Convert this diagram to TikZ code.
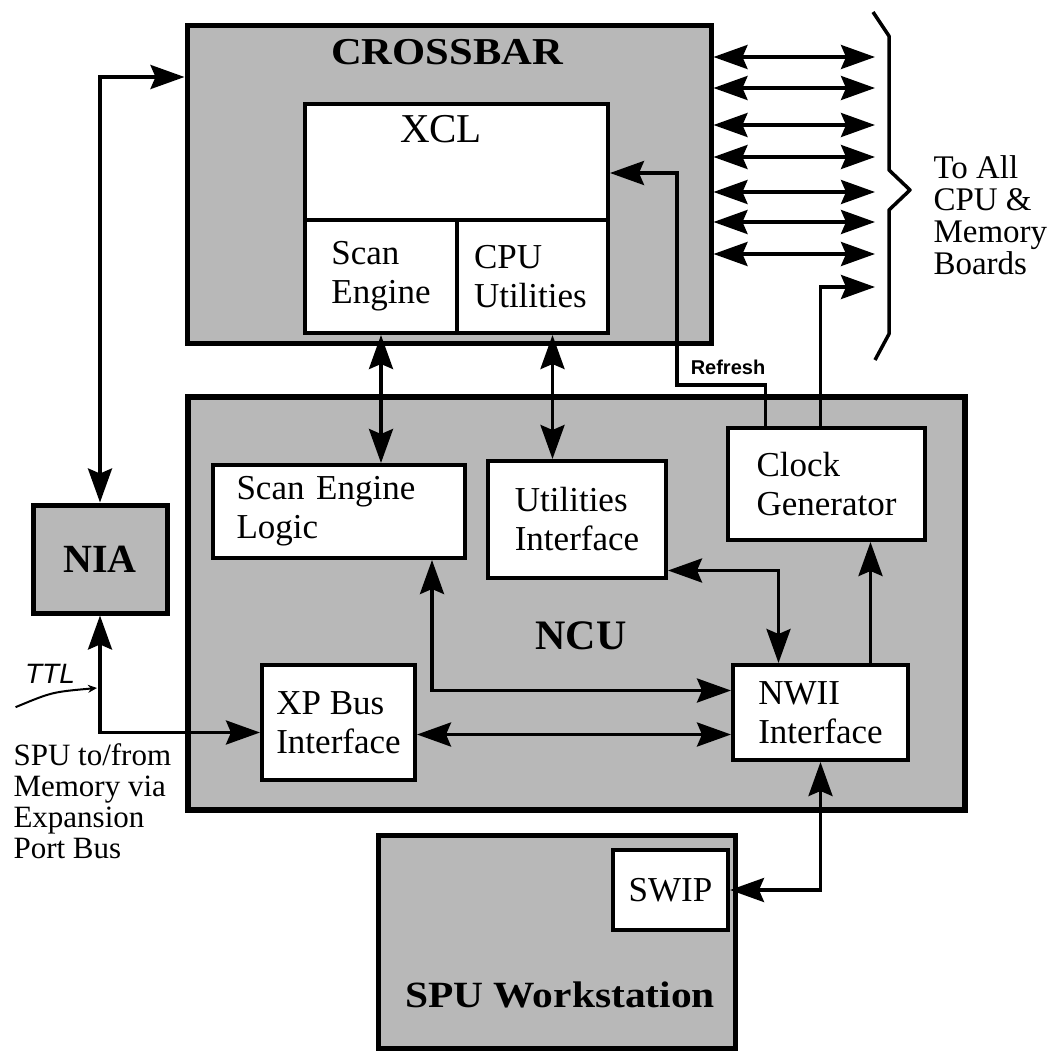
\documentclass[tikz,border=0pt]{standalone}
\usepackage{fontspec}
\setmainfont{Liberation Serif}
\newfontfamily\headfont[FakeStretch=1.12]{Liberation Serif}
\newfontfamily\handfont{Liberation Sans}
\usetikzlibrary{arrows.meta,positioning,calc}

\begin{document}
\begin{tikzpicture}[x=1pt,y=-1pt,
  >={Stealth[length=34pt,width=24pt,inset=5pt]},
  grp/.style={draw,line width=5pt,fill=black!28},
  blk/.style={draw,line width=4pt,fill=white,inner sep=0pt,align=left,font=\fontsize{35}{39}\selectfont},
  head/.style={font=\headfont\bfseries\fontsize{38}{40}\selectfont},
  conn/.style={line width=3.5pt},
  dbl/.style={conn,<->},
  arr/.style={conn,->}]
  \useasboundingbox (0,0) rectangle (1061,1052);

  % crossbar with the XCL
  \node[grp,minimum width=524pt,minimum height=318pt] (crossbar) at (449,184) {};
  \node[head] (crosstxt) at (447,52) {CROSSBAR};
  \node[blk,minimum width=303pt,minimum height=116pt] (xcl) at (456.5,162) {};
  \node[font=\fontsize{41}{41}\selectfont] (xcltxt) at (441,129) {XCL};
  \node[blk,minimum width=152pt,minimum height=113pt] (scaneng) at (381,276.5) {Scan\\Engine};
  \node[blk,minimum width=151pt,minimum height=113pt,text width=117pt] (cpuutil) at (532.5,276.5) {CPU\\Utilities};

  % NCU and its parts
  \node[grp,line width=6pt,minimum width=777pt,minimum height=413pt] (ncu) at (576.5,603.5) {};
  \node[font=\bfseries\fontsize{42}{42}\selectfont] (ncutxt) at (581,636) {NCU};
  \node[blk,minimum width=252pt,minimum height=93pt,text width=205pt] (sel) at (339,511.5) {Scan Engine\\Logic};
  \node[blk,minimum width=178pt,minimum height=117pt] (utif) at (577,519.5) {Utilities\\Interface};
  \node[blk,minimum width=197pt,minimum height=112pt] (clk) at (826.5,484) {Clock\\Generator};
  \node[blk,minimum width=175pt,minimum height=95pt] (nwii) at (820.5,712.5) {NWII\\Interface};
  \node[blk,minimum width=153pt,minimum height=115pt] (xpb) at (338.5,722.5) {XP Bus\\Interface};

  % NIA and SPU workstation
  \node[grp,minimum width=134pt,minimum height=108pt,font=\bfseries\fontsize{40}{40}\selectfont] (nia) at (100,559) {NIA};
  \node[grp,minimum width=357pt,minimum height=213pt] (spu) at (556.5,941.5) {};
  \node[head,font=\headfont\bfseries\fontsize{37}{40}\selectfont] (sputxt) at (560,995) {SPU Workstation};
  \node[blk,minimum width=115pt,minimum height=80pt] (swip) at (670.5,890) {SWIP};

  % side texts
  \node[anchor=north west,align=left,font=\fontsize{33}{32}\selectfont] (boards) at (930,152) {To All\\CPU \&\\Memory\\Boards};
  \node[anchor=north west,align=left,font=\fontsize{31}{31}\selectfont] (xptxt) at (10,740) {SPU to/from\\Memory via\\Expansion\\Port Bus};
  \node[font=\handfont\itshape\fontsize{28}{28}\selectfont] (ttl) at (50,674) {TTL};
  \node[font=\handfont\bfseries\fontsize{20}{20}\selectfont] (rftxt) at (728,367) {Refresh};

  % free ends and corners
  \coordinate (niatop) at (100,77);
  \coordinate (rf) at (677,385);
  \coordinate (bd8) at (875,287);
  \coordinate (ttlpt) at (97,688);

  % connectors
  \foreach \y [count=\i] in {57,88,125,157,192,222,254} {
    \coordinate (bd\i) at (875,\y);
    \draw[dbl] (crossbar.east |- bd\i) -- (bd\i);
  }
  \draw[dbl] (nia.north) -- (niatop) -- (crossbar.west |- niatop);
  \draw[dbl] (nia.south) |- ([yshift=-10pt]xpb.west);
  \draw[dbl] (scaneng.south) -- (scaneng.south |- sel.north);
  \draw[dbl] ([xshift=20pt]cpuutil.south) -- ([xshift=20pt]cpuutil.south |- utif.north);
  \draw[dbl] ([yshift=-51pt]utif.east) -| ([xshift=-42pt]nwii.north);
  \draw[arr] ([xshift=50pt]nwii.north) -- ([xshift=50pt]nwii.north |- clk.south);
  \draw[dbl] ([xshift=93pt]sel.south) |- ([yshift=22pt]nwii.west);
  \draw[dbl] ([yshift=-12pt]xpb.east) -- ([yshift=-12pt]xpb.east -| nwii.west);
  \draw[dbl] (nwii.south) |- (swip.east);
  \draw[arr] ([xshift=-61pt]clk.north) |- (rf) |- ([yshift=-11pt]xcl.east);
  \draw[arr] ([xshift=-6pt]clk.north) |- (bd8);
  \draw[line width=2pt,-{Stealth[length=9pt,width=8pt]}] ([shift={(-6,20)}]ttl.south west) .. controls (52,692) .. (ttlpt);

  % brace
  \draw[conn,line join=round] (873,12) -- (889,36) -- (889,170) -- (910,190) -- (889,210) -- (889,334) -- (875,360);
\end{tikzpicture}
\end{document}
